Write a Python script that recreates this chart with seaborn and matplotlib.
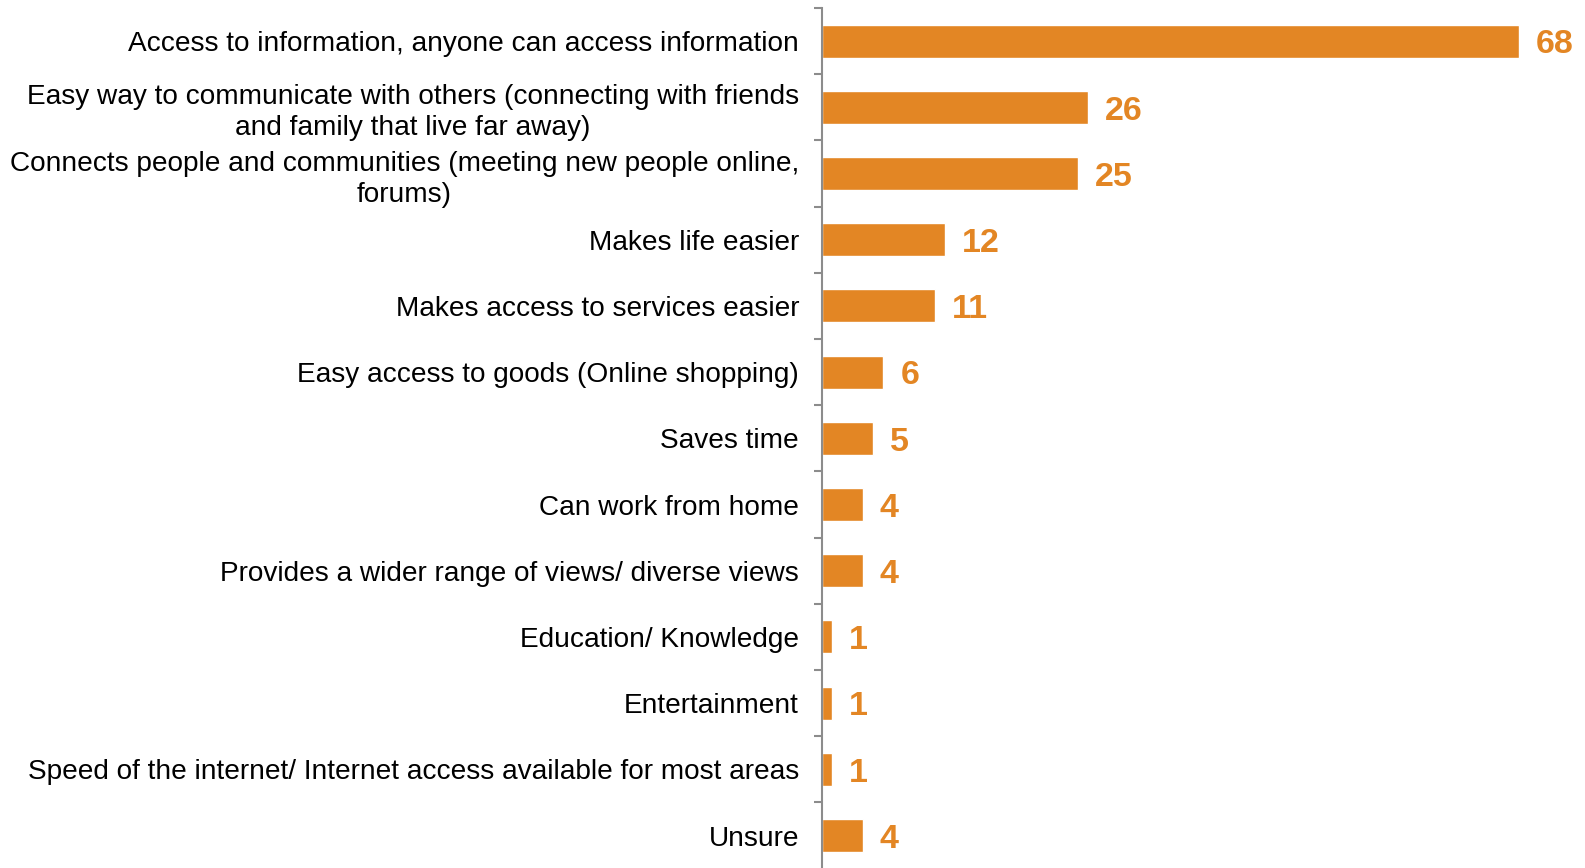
import seaborn as sns
import matplotlib.pyplot as plt
import pandas as pd

categories = [
    "Access to information, anyone can access information",
    "Easy way to communicate with others (connecting with friends\nand family that live far away)",
    "Connects people and communities (meeting new people online,\nforums)",
    "Makes life easier",
    "Makes access to services easier",
    "Easy access to goods (Online shopping)",
    "Saves time",
    "Can work from home",
    "Provides a wider range of views/ diverse views",
    "Education/ Knowledge",
    "Entertainment",
    "Speed of the internet/ Internet access available for most areas",
    "Unsure",
]
values = [68, 26, 25, 12, 11, 6, 5, 4, 4, 1, 1, 1, 4]

ORANGE = '#E38624'
GREY = '#8C8C8C'


def main():
    sns.set_style("white")
    plt.rcParams['font.family'] = ['Liberation Sans', 'DejaVu Sans']

    data = pd.DataFrame({"reason": categories, "pct": values})

    fig = plt.figure(figsize=(15.85, 8.68), dpi=100)
    left, right = 822 / 1585, 1580 / 1585
    ax = fig.add_axes([left, 0, right - left, 1 - 8 / 868])

    sns.barplot(data=data, x="pct", y="reason", color=ORANGE, saturation=1,
                width=0.5, orient="h", ax=ax)

    # value labels, baseline shifted so the digits sit centred on the bar
    for i, v in enumerate(values):
        ax.text(v + 1.65, i + 0.185, str(v), va='baseline', ha='left',
                fontsize=24.5, fontweight='bold', color=ORANGE)

    ax.set_xlim(0, 74)
    ax.set_ylim(12.49, -0.5)
    ax.set_xlabel("")
    ax.set_ylabel("")
    ax.set_xticks([])

    for s in ['top', 'right', 'bottom']:
        ax.spines[s].set_visible(False)
    ax.spines['left'].set_color(GREY)
    ax.spines['left'].set_linewidth(1.5)

    ax.set_yticks([i - 0.5 for i in range(13)], minor=True)
    ax.tick_params(axis='y', which='major', length=0, pad=16.5,
                   labelsize=20.2, labelcolor='black')
    ax.tick_params(axis='y', which='minor', length=5.5, width=1.5, color=GREY,
                   direction='out', left=True)
    for lbl in ax.get_yticklabels():
        lbl.set_multialignment('center')
        lbl.set_linespacing(1.25)

    fig.savefig("out.png", dpi=100)


if __name__ == "__main__":
    main()
